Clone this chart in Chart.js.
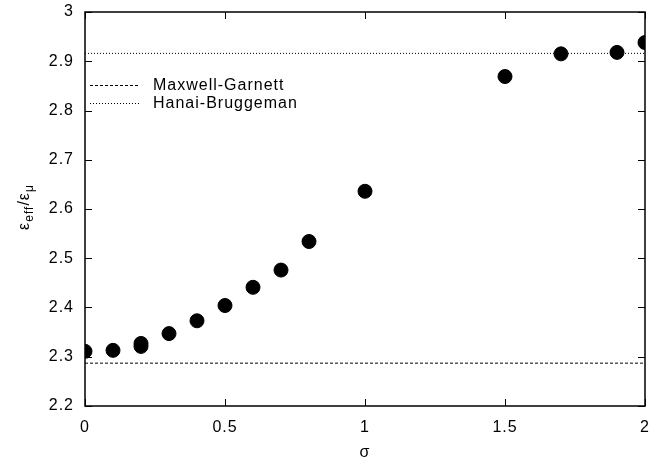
<!DOCTYPE html>
<html>
<head>
<meta charset="utf-8">
<script src="https://cdn.jsdelivr.net/npm/chart.js@4/dist/chart.umd.min.js"></script>
<style>
  html, body { margin: 0; padding: 0; background: #fff; }
  #wrap { width: 665px; height: 466px; }
</style>
</head>
<body>
<div id="wrap"><canvas id="grafica" width="665" height="466"></canvas></div>
<script>
// Datos
const sigma = [0, 0.1, 0.2, 0.2, 0.3, 0.4, 0.5, 0.6, 0.7, 0.8, 1.0, 1.5, 1.7, 1.9, 2.0];
const epsRatio = [2.311, 2.313, 2.321, 2.327, 2.347, 2.373, 2.404, 2.441, 2.476, 2.534, 2.636, 2.869, 2.915, 2.918, 2.938];
const maxwellGarnett = 2.287;
const hanaiBruggeman = 2.916;
const xRange = [0, 2];
const yRange = [2.2, 3];
const legendLabels = ['Maxwell-Garnett', 'Hanai-Bruggeman'];

const fontFam = '"Liberation Sans", Arial, Helvetica, sans-serif';
const fontSize = 16;

// Líneas de referencia horizontales
const refLine = (v) => xRange.map(x => ({ x: x, y: v }));

// Letra algo más espaciada, como en el original
const spacing = {
    id: 'spacing',
    beforeDraw(chart) { chart.ctx.letterSpacing = '1px'; }
};

// Marcas de escala hacia dentro en los cuatro lados
const inwardTicks = {
    id: 'inwardTicks',
    afterDatasetsDraw(chart) {
        const { ctx, chartArea: a, scales } = chart;
        const len = 7;
        ctx.save();
        ctx.strokeStyle = '#000';
        ctx.lineWidth = 1;
        scales.x.ticks.forEach(t => {
            const px = Math.round(scales.x.getPixelForValue(t.value)) + 0.5;
            ctx.beginPath();
            ctx.moveTo(px, a.bottom); ctx.lineTo(px, a.bottom - len);
            ctx.moveTo(px, a.top); ctx.lineTo(px, a.top + len);
            ctx.stroke();
        });
        scales.y.ticks.forEach(t => {
            const py = Math.round(scales.y.getPixelForValue(t.value)) + 0.5;
            ctx.beginPath();
            ctx.moveTo(a.left, py); ctx.lineTo(a.left + len, py);
            ctx.moveTo(a.right, py); ctx.lineTo(a.right - len, py);
            ctx.stroke();
        });
        ctx.lineWidth = 1.5;
        ctx.strokeRect(a.left, a.top, a.right - a.left, a.bottom - a.top);
        ctx.restore();
    }
};

// Leyenda dentro del área y título del eje y con subíndices
const extras = {
    id: 'extras',
    afterDraw(chart) {
        const { ctx } = chart;
        ctx.save();
        ctx.letterSpacing = '1px';
        ctx.fillStyle = '#000';
        ctx.strokeStyle = '#000';
        ctx.lineWidth = 1;
        ctx.font = fontSize + 'px ' + fontFam;
        ctx.textBaseline = 'middle';
        const rows = [86, 104];
        const dashes = [[3, 2], [1, 2]];
        legendLabels.forEach((txt, i) => {
            const y = rows[i] - 0.5;
            ctx.setLineDash(dashes[i]);
            ctx.beginPath();
            ctx.moveTo(90, y); ctx.lineTo(140, y);
            ctx.stroke();
            ctx.setLineDash([]);
            ctx.fillText(txt, 153, rows[i]);
        });

        // ε_eff/ε_μ rotado
        ctx.translate(24, 207);
        ctx.rotate(-Math.PI / 2);
        const parts = [
            ['ε', 16, 0], ['eff', 12, 4], ['/', 16, 0], ['ε', 16, 0], ['μ', 12, 4]
        ];
        let w = 0;
        parts.forEach(p => { ctx.font = p[1] + 'px ' + fontFam; w += ctx.measureText(p[0]).width; });
        let x = -w / 2;
        ctx.textBaseline = 'alphabetic';
        parts.forEach(p => {
            ctx.font = p[1] + 'px ' + fontFam;
            ctx.fillText(p[0], x, 5 + p[2]);
            x += ctx.measureText(p[0]).width;
        });
        ctx.restore();
    }
};

new Chart(document.getElementById('grafica'), {
    type: 'scatter',
    data: {
        datasets: [
            {
                label: legendLabels[0],
                type: 'line',
                data: refLine(maxwellGarnett),
                borderColor: '#000',
                borderWidth: 1,
                borderDash: [3, 2],
                pointRadius: 0,
                fill: false
            },
            {
                label: legendLabels[1],
                type: 'line',
                data: refLine(hanaiBruggeman),
                borderColor: '#000',
                borderWidth: 1,
                borderDash: [1, 2],
                pointRadius: 0,
                fill: false
            },
            {
                label: 'simulación',
                data: sigma.map((s, i) => ({ x: s, y: epsRatio[i] })),
                backgroundColor: '#000',
                borderColor: '#000',
                pointRadius: 7,
                pointHoverRadius: 7
            }
        ]
    },
    options: {
        responsive: false,
        animation: false,
        layout: { padding: { top: 12, right: 20, left: 0, bottom: 0 } },
        plugins: { legend: { display: false }, tooltip: { enabled: false } },
        scales: {
            x: {
                type: 'linear',
                min: xRange[0], max: xRange[1],
                border: { display: false },
                grid: { display: false, drawTicks: false },
                ticks: {
                    stepSize: 0.5, color: '#000', padding: 12,
                    font: { family: fontFam, size: fontSize },
                    maxRotation: 0,
                    callback: v => Number(v.toFixed(1)).toString()
                },
                title: {
                    display: true, text: 'σ', color: '#000',
                    font: { family: fontFam, size: fontSize }, padding: { top: 9 }
                },
                afterFit(scale) {
                    scale.height = 60;
                    scale.paddingLeft = 0;
                    scale.paddingRight = 0;
                }
            },
            y: {
                type: 'linear',
                min: yRange[0], max: yRange[1],
                border: { display: false },
                grid: { display: false, drawTicks: false },
                ticks: {
                    stepSize: 0.1, color: '#000', padding: 11,
                    font: { family: fontFam, size: fontSize },
                    callback: v => Number(v.toFixed(1)).toString()
                },
                afterFit(scale) {
                    scale.width = 85;
                    scale.paddingTop = 0;
                    scale.paddingBottom = 0;
                }
            }
        }
    },
    plugins: [spacing, inwardTicks, extras]
});
</script>
</body>
</html>
